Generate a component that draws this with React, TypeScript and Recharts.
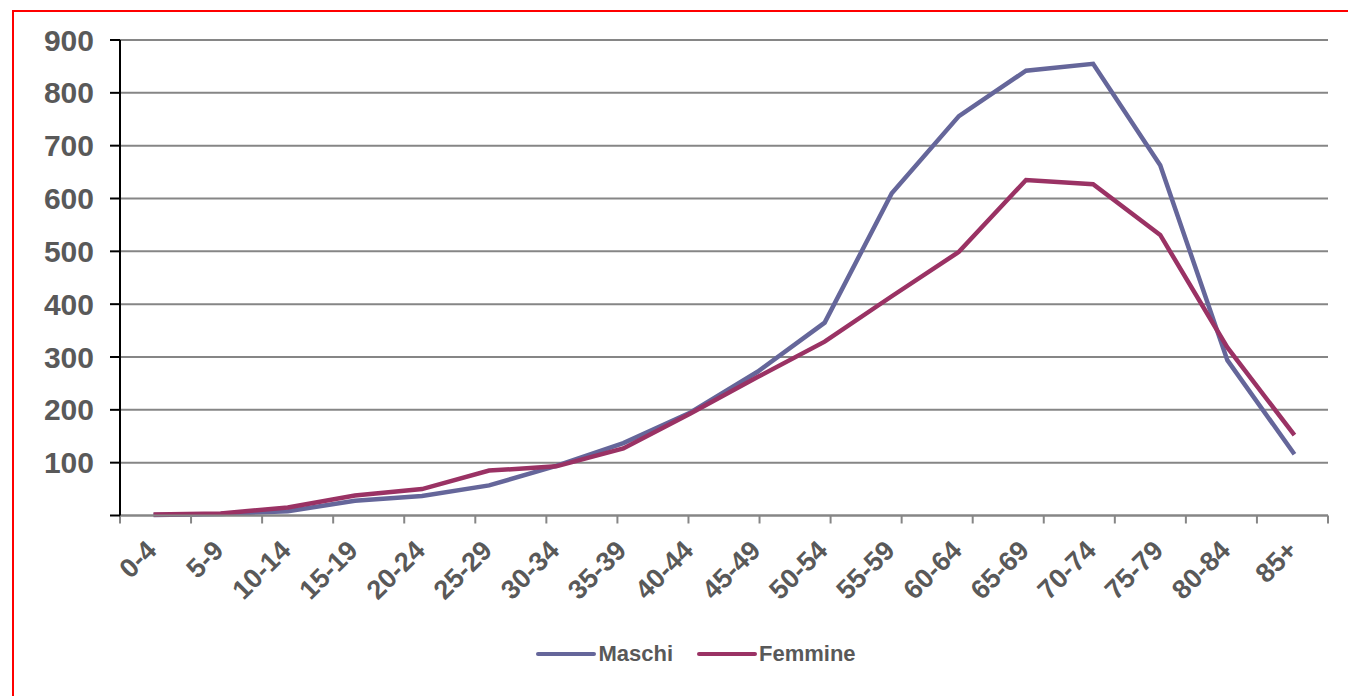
import React from 'react';
import { LineChart, Line, XAxis, YAxis, CartesianGrid, Legend } from 'recharts';

const ageGroups = ['0-4', '5-9', '10-14', '15-19', '20-24', '25-29', '30-34', '35-39', '40-44', '45-49', '50-54', '55-59', '60-64', '65-69', '70-74', '75-79', '80-84', '85+'];
const maschi = [1, 3, 8, 28, 37, 57, 94, 137, 195, 272, 365, 610, 756, 842, 855, 663, 294, 116];
const femmine = [2, 4, 15, 38, 50, 85, 93, 127, 193, 262, 329, 415, 499, 635, 627, 531, 318, 152];
const seriesNames = ['Maschi', 'Femmine'];
const yTicks = [0, 100, 200, 300, 400, 500, 600, 700, 800, 900];
const boundaryTicks = [0, 1, 2, 3, 4, 5, 6, 7, 8, 9, 10, 11, 12, 13, 14, 15, 16, 17, 18];

const data = ageGroups.map((g, i) => ({ group: g, Maschi: maschi[i], Femmine: femmine[i] }));

const FONT = '"Liberation Sans", Arial, sans-serif';
const TEXT = '#595959';
const GRID = '#868686';

const renderLegend = (props: any) => {
  const payload = [...(props.payload || [])].sort(
    (a: any, b: any) => seriesNames.indexOf(a.value) - seriesNames.indexOf(b.value)
  );
  return (
    <div style={{ display: 'flex', justifyContent: 'center', alignItems: 'center' }}>
      {payload.map((e: any, i: number) => (
        <div key={i} style={{ display: 'flex', alignItems: 'center', marginRight: i < payload.length - 1 ? 24 : 0 }}>
          <svg width={60} height={8}>
            <line x1={2} y1={4} x2={58} y2={4} stroke={e.color} strokeWidth={4} strokeLinecap="round" />
          </svg>
          <span style={{ marginLeft: 2, fontSize: 22, fontWeight: 'bold', color: TEXT, fontFamily: FONT, lineHeight: '26px' }}>{e.value}</span>
        </div>
      ))}
    </div>
  );
};

export default function App() {
  return (
    <div style={{ position: 'fixed', left: 0, top: 0, width: 1348, height: 696, overflow: 'hidden', background: '#fff' }}>
      <div style={{ position: 'absolute', left: 12, top: 10, width: 1400, height: 800, border: '2px solid #ff0000', boxSizing: 'border-box' }} />
      <div style={{ position: 'absolute', left: 0, top: 0 }}>
        <LineChart width={1348} height={696} data={data} margin={{ top: 40, right: 20, bottom: 99.5, left: 60 }}>
          <CartesianGrid vertical={false} stroke={GRID} strokeWidth={2} />
          <XAxis
            xAxisId={0}
            type="number"
            domain={[0, 18]}
            allowDataOverflow
            ticks={boundaryTicks}
            interval={0}
            height={1}
            axisLine={{ stroke: GRID, strokeWidth: 2 }}
            tickLine={{ stroke: GRID, strokeWidth: 2 }}
            tickSize={8}
            tickFormatter={() => ''}
          />
          <XAxis
            xAxisId="cat"
            dataKey="group"
            scale="band"
            interval={0}
            height={80}
            axisLine={false}
            tickLine={false}
            tickMargin={16}
            tick={{ fill: TEXT, fontSize: 27, fontWeight: 'bold', fontFamily: FONT, angle: -45, textAnchor: 'end', dx: -9 }}
          />
          <YAxis
            domain={[0, 900]}
            ticks={yTicks}
            interval={0}
            width={60}
            axisLine={{ stroke: '#000', strokeWidth: 2 }}
            tickLine={{ stroke: '#000', strokeWidth: 2 }}
            tickSize={10}
            tickMargin={16}
            tickFormatter={(v: number) => (v === 0 ? '' : String(v))}
            tick={{ fill: TEXT, fontSize: 30, fontWeight: 'bold', fontFamily: FONT }}
          />
          <Legend
            layout="horizontal"
            verticalAlign="middle"
            align="center"
            content={renderLegend}
            wrapperStyle={{ top: 641, left: 42, width: 1308 }}
          />
          <Line xAxisId="cat" type="linear" dataKey="Maschi" stroke="#65669A" strokeWidth={4.5} dot={false} isAnimationActive={false} />
          <Line xAxisId="cat" type="linear" dataKey="Femmine" stroke="#9A3264" strokeWidth={4.5} dot={false} isAnimationActive={false} />
        </LineChart>
      </div>
    </div>
  );
}
